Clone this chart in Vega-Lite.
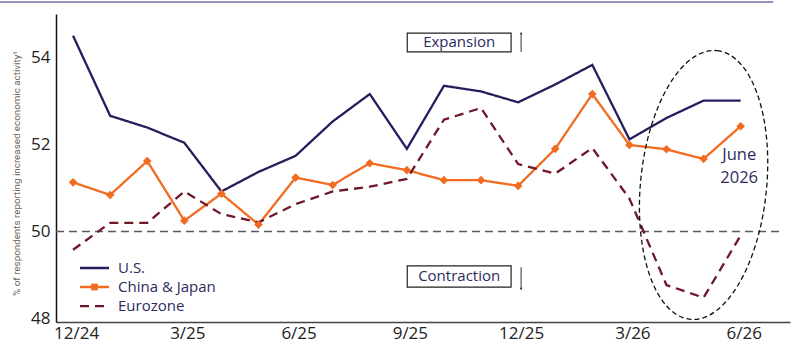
{
  "$schema": "https://vega.github.io/schema/vega-lite/v6.json",
  "width": 734,
  "height": 308,
  "padding": {"left": 56, "top": 14, "right": 10, "bottom": 29},
  "autosize": {"type": "none"},
  "background": "white",
  "config": {
    "view": {"stroke": null},
    "font": "Open Sans",
    "axis": {"grid": false, "ticks": false}
  },
  "datasets": {
    "series": [
      {"m": 0, "s": "U.S.", "v": 54.5}, {"m": 1, "s": "U.S.", "v": 52.66}, {"m": 2, "s": "U.S.", "v": 52.39},
      {"m": 3, "s": "U.S.", "v": 52.04}, {"m": 4, "s": "U.S.", "v": 50.92}, {"m": 5, "s": "U.S.", "v": 51.37},
      {"m": 6, "s": "U.S.", "v": 51.74}, {"m": 7, "s": "U.S.", "v": 52.53}, {"m": 8, "s": "U.S.", "v": 53.16},
      {"m": 9, "s": "U.S.", "v": 51.9}, {"m": 10, "s": "U.S.", "v": 53.35}, {"m": 11, "s": "U.S.", "v": 53.22},
      {"m": 12, "s": "U.S.", "v": 52.97}, {"m": 13, "s": "U.S.", "v": 53.38}, {"m": 14, "s": "U.S.", "v": 53.83},
      {"m": 15, "s": "U.S.", "v": 52.12}, {"m": 16, "s": "U.S.", "v": 52.61}, {"m": 17, "s": "U.S.", "v": 53.01},
      {"m": 18, "s": "U.S.", "v": 53.01},
      {"m": 0, "s": "China & Japan", "v": 51.13}, {"m": 1, "s": "China & Japan", "v": 50.84}, {"m": 2, "s": "China & Japan", "v": 51.62},
      {"m": 3, "s": "China & Japan", "v": 50.25}, {"m": 4, "s": "China & Japan", "v": 50.87}, {"m": 5, "s": "China & Japan", "v": 50.16},
      {"m": 6, "s": "China & Japan", "v": 51.24}, {"m": 7, "s": "China & Japan", "v": 51.07}, {"m": 8, "s": "China & Japan", "v": 51.57},
      {"m": 9, "s": "China & Japan", "v": 51.41}, {"m": 10, "s": "China & Japan", "v": 51.18}, {"m": 11, "s": "China & Japan", "v": 51.18},
      {"m": 12, "s": "China & Japan", "v": 51.05}, {"m": 13, "s": "China & Japan", "v": 51.9}, {"m": 14, "s": "China & Japan", "v": 53.16},
      {"m": 15, "s": "China & Japan", "v": 51.99}, {"m": 16, "s": "China & Japan", "v": 51.89}, {"m": 17, "s": "China & Japan", "v": 51.67},
      {"m": 18, "s": "China & Japan", "v": 52.42},
      {"m": 0, "s": "Eurozone", "v": 49.58}, {"m": 1, "s": "Eurozone", "v": 50.2}, {"m": 2, "s": "Eurozone", "v": 50.2},
      {"m": 3, "s": "Eurozone", "v": 50.92}, {"m": 4, "s": "Eurozone", "v": 50.4}, {"m": 5, "s": "Eurozone", "v": 50.21},
      {"m": 6, "s": "Eurozone", "v": 50.63}, {"m": 7, "s": "Eurozone", "v": 50.92}, {"m": 8, "s": "Eurozone", "v": 51.03},
      {"m": 9, "s": "Eurozone", "v": 51.21}, {"m": 10, "s": "Eurozone", "v": 52.57}, {"m": 11, "s": "Eurozone", "v": 52.84},
      {"m": 12, "s": "Eurozone", "v": 51.55}, {"m": 13, "s": "Eurozone", "v": 51.33}, {"m": 14, "s": "Eurozone", "v": 51.92},
      {"m": 15, "s": "Eurozone", "v": 50.76}, {"m": 16, "s": "Eurozone", "v": 48.77}, {"m": 17, "s": "Eurozone", "v": 48.48},
      {"m": 18, "s": "Eurozone", "v": 49.91}
    ],
    "legend": [
      {"s": "U.S.", "x": 0.187, "x2": 0.969, "xt": 1.212, "y": 49.161},
      {"s": "China & Japan", "x": 0.187, "x2": 0.969, "xt": 1.212, "y": 48.724},
      {"s": "Eurozone", "x": 0.187, "x2": 0.969, "xt": 1.212, "y": 48.287}
    ],
    "boxes": [
      {"label": "Expansion", "x": 9.01, "x2": 11.81, "xc": 10.41, "y": 54.13, "y2": 54.56, "yc": 54.35},
      {"label": "Contraction", "x": 9.01, "x2": 11.81, "xc": 10.41, "y": 48.72, "y2": 49.21, "yc": 48.97}
    ],
    "arrows": [
      {"dir": "up", "x": 12.08, "y": 54.13, "y2": 54.56, "tip": 54.56},
      {"dir": "down", "x": 12.08, "y": 48.68, "y2": 49.18, "tip": 48.68}
    ],
    "notes": [
      {"label": "June", "x": 17.96, "y": 51.75},
      {"label": "2026", "x": 17.96, "y": 51.22}
    ]
  },
  "layer": [
    {
      "data": {"values": [{"x": -1.97, "x2": 18.88, "y": 55.276}]},
      "mark": {"type": "rule", "color": "#7d68a8", "strokeWidth": 1.5},
      "encoding": {
        "x": {"field": "x", "type": "quantitative", "scale": {"domain": [-0.46, 19.33], "nice": false, "zero": false}},
        "x2": {"field": "x2"},
        "y": {"field": "y", "type": "quantitative"}
      }
    },
    {
      "data": {"values": [{"x": -0.46, "x2": 19.07, "y": 50}]},
      "mark": {"type": "rule", "color": "#5a5a5a", "strokeWidth": 1.4, "strokeDash": [8, 5]},
      "encoding": {
        "x": {"field": "x", "type": "quantitative"},
        "x2": {"field": "x2"},
        "y": {"field": "y", "type": "quantitative"}
      }
    },
    {
      "data": {"name": "series"},
      "mark": {"type": "line", "strokeWidth": 2.3},
      "encoding": {
        "x": {
          "field": "m", "type": "quantitative",
          "scale": {"domain": [-0.46, 19.33], "nice": false, "zero": false},
          "axis": {
            "values": [0, 3, 6, 9, 12, 15, 18],
            "labelExpr": "['12/24','3/25','6/25','9/25','12/25','3/26','6/26'][round(datum.value/3)]",
            "title": null, "domainColor": "#444", "domainWidth": 1.3,
            "labelFontSize": 17, "labelColor": "#222", "labelPadding": 3, "labelOffset": 3
          }
        },
        "y": {
          "field": "v", "type": "quantitative",
          "scale": {"domain": [47.92, 55], "nice": false, "zero": false},
          "axis": {
            "values": [48, 50, 52, 54],
            "title": "% of respondents reporting increased economic activity¹",
            "titleFont": "Roboto", "titleFontSize": 9.8, "titleFontWeight": "normal",
            "titleColor": "#6f6256", "titleX": -40, "titleY": 159, "titleAngle": -90,
            "titleAlign": "center", "titleBaseline": "middle",
            "domainColor": "#111", "domainWidth": 1.5,
            "labelFontSize": 17, "labelColor": "#222", "labelPadding": 6
          }
        },
        "color": {
          "field": "s", "type": "nominal", "legend": null,
          "scale": {"domain": ["U.S.", "China & Japan", "Eurozone"], "range": ["#231f5c", "#f26b21", "#6e1726"]}
        },
        "strokeDash": {
          "field": "s", "type": "nominal", "legend": null,
          "scale": {"domain": ["U.S.", "China & Japan", "Eurozone"], "range": [[1, 0], [1, 0], [9, 6]]}
        }
      }
    },
    {
      "data": {"name": "series"},
      "transform": [{"filter": "datum.s === 'China & Japan'"}],
      "mark": {"type": "point", "shape": "diamond", "filled": true, "size": 75, "color": "#f26b21", "opacity": 1},
      "encoding": {
        "x": {"field": "m", "type": "quantitative"},
        "y": {"field": "v", "type": "quantitative"}
      }
    },
    {
      "data": {"values": [{"x": 17.0, "y": 51.07}]},
      "mark": {
        "type": "point",
        "shape": "M0,-1C0.258,-1,0.467,-0.552,0.467,0C0.467,0.552,0.258,1,0,1C-0.258,1,-0.467,0.552,-0.467,0C-0.467,-0.552,-0.258,-1,0,-1Z",
        "size": 72900, "filled": false, "stroke": "#111", "strokeWidth": 1.3, "strokeDash": [5, 3], "angle": 5.7, "opacity": 1
      },
      "encoding": {
        "x": {"field": "x", "type": "quantitative"},
        "y": {"field": "y", "type": "quantitative"}
      }
    },
    {
      "data": {"name": "notes"},
      "mark": {"type": "text", "fontSize": 16.5, "color": "#2b2b5e", "align": "center", "baseline": "middle"},
      "encoding": {
        "x": {"field": "x", "type": "quantitative"},
        "y": {"field": "y", "type": "quantitative"},
        "text": {"field": "label"}
      }
    },
    {
      "data": {"name": "boxes"},
      "mark": {"type": "rect", "fill": "white", "stroke": "#222", "strokeWidth": 1.2},
      "encoding": {
        "x": {"field": "x", "type": "quantitative"},
        "x2": {"field": "x2"},
        "y": {"field": "y", "type": "quantitative"},
        "y2": {"field": "y2"}
      }
    },
    {
      "data": {"name": "boxes"},
      "mark": {"type": "text", "fontSize": 15, "color": "#2b2b5e", "align": "center", "baseline": "middle"},
      "encoding": {
        "x": {"field": "xc", "type": "quantitative"},
        "y": {"field": "yc", "type": "quantitative"},
        "text": {"field": "label"}
      }
    },
    {
      "data": {"name": "arrows"},
      "mark": {"type": "rule", "color": "#333", "strokeWidth": 1},
      "encoding": {
        "x": {"field": "x", "type": "quantitative"},
        "y": {"field": "y", "type": "quantitative"},
        "y2": {"field": "y2"}
      }
    },
    {
      "data": {"name": "arrows"},
      "mark": {"type": "point", "filled": true, "size": 8, "color": "#333", "opacity": 1},
      "encoding": {
        "x": {"field": "x", "type": "quantitative"},
        "y": {"field": "tip", "type": "quantitative"},
        "shape": {"field": "dir", "type": "nominal", "legend": null, "scale": {"domain": ["up", "down"], "range": ["triangle-up", "triangle-down"]}}
      }
    },
    {
      "data": {"name": "legend"},
      "mark": {"type": "rule", "strokeWidth": 2.3},
      "encoding": {
        "x": {"field": "x", "type": "quantitative"},
        "x2": {"field": "x2"},
        "y": {"field": "y", "type": "quantitative"},
        "color": {"field": "s", "type": "nominal", "legend": null},
        "strokeDash": {"field": "s", "type": "nominal", "legend": null}
      }
    },
    {
      "data": {"values": [{"x": 0.578, "y": 48.724}]},
      "mark": {"type": "point", "shape": "square", "filled": true, "size": 45, "color": "#f26b21", "opacity": 1},
      "encoding": {
        "x": {"field": "x", "type": "quantitative"},
        "y": {"field": "y", "type": "quantitative"}
      }
    },
    {
      "data": {"name": "legend"},
      "mark": {"type": "text", "fontSize": 15, "color": "#2b2b5e", "align": "left", "baseline": "middle"},
      "encoding": {
        "x": {"field": "xt", "type": "quantitative"},
        "y": {"field": "y", "type": "quantitative"},
        "text": {"field": "s"}
      }
    }
  ]
}
